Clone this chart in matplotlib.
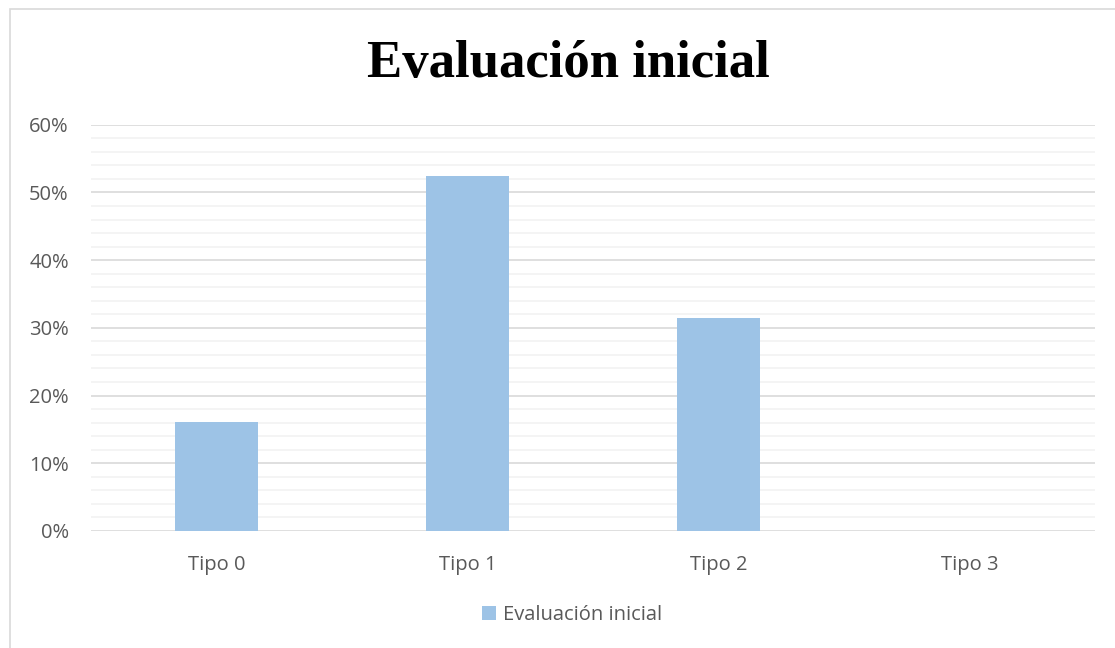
'''Evaluación inicial - bar chart in Excel style'''
import matplotlib
matplotlib.use('Agg')
from matplotlib import pyplot as plt
from matplotlib.patches import Rectangle
from matplotlib.ticker import MultipleLocator, FuncFormatter
import numpy as np

categories = ['Tipo 0', 'Tipo 1', 'Tipo 2', 'Tipo 3']
evaluacion_inicial = [16.1, 52.4, 31.5, 0.0]
series_name = 'Evaluación inicial'
title = 'Evaluación inicial'

W, H = 1115, 648
fig = plt.figure(figsize=(W / 100, H / 100), dpi=100)

# chart border (cut off at right/bottom like the screenshot)
fig.patches.append(Rectangle((10 / W, -0.05), 1.1, 1 - 9 / H + 0.05,
                             transform=fig.transFigure, fill=False,
                             edgecolor='#D9D9D9', linewidth=1.2))

ax = fig.add_axes([91 / W, 1 - 531 / H, (1095 - 91) / W, (531 - 124.7) / H])
x = np.arange(len(categories))
ax.bar(x, evaluacion_inicial, width=0.334, color='#9DC3E6', zorder=3,
       label=series_name)

ax.set_xlim(-0.5, len(categories) - 0.5)
ax.set_ylim(0, 60)
ax.yaxis.set_major_locator(MultipleLocator(10))
ax.yaxis.set_minor_locator(MultipleLocator(2))
ax.yaxis.set_major_formatter(FuncFormatter(lambda v, p: f'{v:.0f}%'))
ax.grid(which='major', axis='y', color='#D9D9D9', linewidth=1.2, zorder=1)
ax.grid(which='minor', axis='y', color='#F2F2F2', linewidth=1.2, zorder=1)
ax.set_xticks(x, categories)

for side in ['top', 'right', 'left', 'bottom']:
    ax.spines[side].set_visible(False)
ax.tick_params(which='both', length=0)
ax.tick_params(axis='y', pad=16, labelsize=14.5, labelcolor='#595959')
ax.tick_params(axis='x', pad=17, labelsize=14.5, labelcolor='#595959')
for lbl in ax.get_xticklabels() + ax.get_yticklabels():
    lbl.set_family('Open Sans')

fig.text(568 / W, 1 - 64 / H, title, ha='center', va='center',
         fontsize=38, fontweight='bold', family='Liberation Serif')

leg = fig.legend(loc='center', bbox_to_anchor=(572 / W, 1 - 615 / H),
                 frameon=False, handlelength=0.7, handleheight=0.7,
                 handletextpad=0.3, prop={'family': 'Open Sans', 'size': 14.5})
for t in leg.get_texts():
    t.set_color('#595959')

fig.savefig('out.png', dpi=100)
